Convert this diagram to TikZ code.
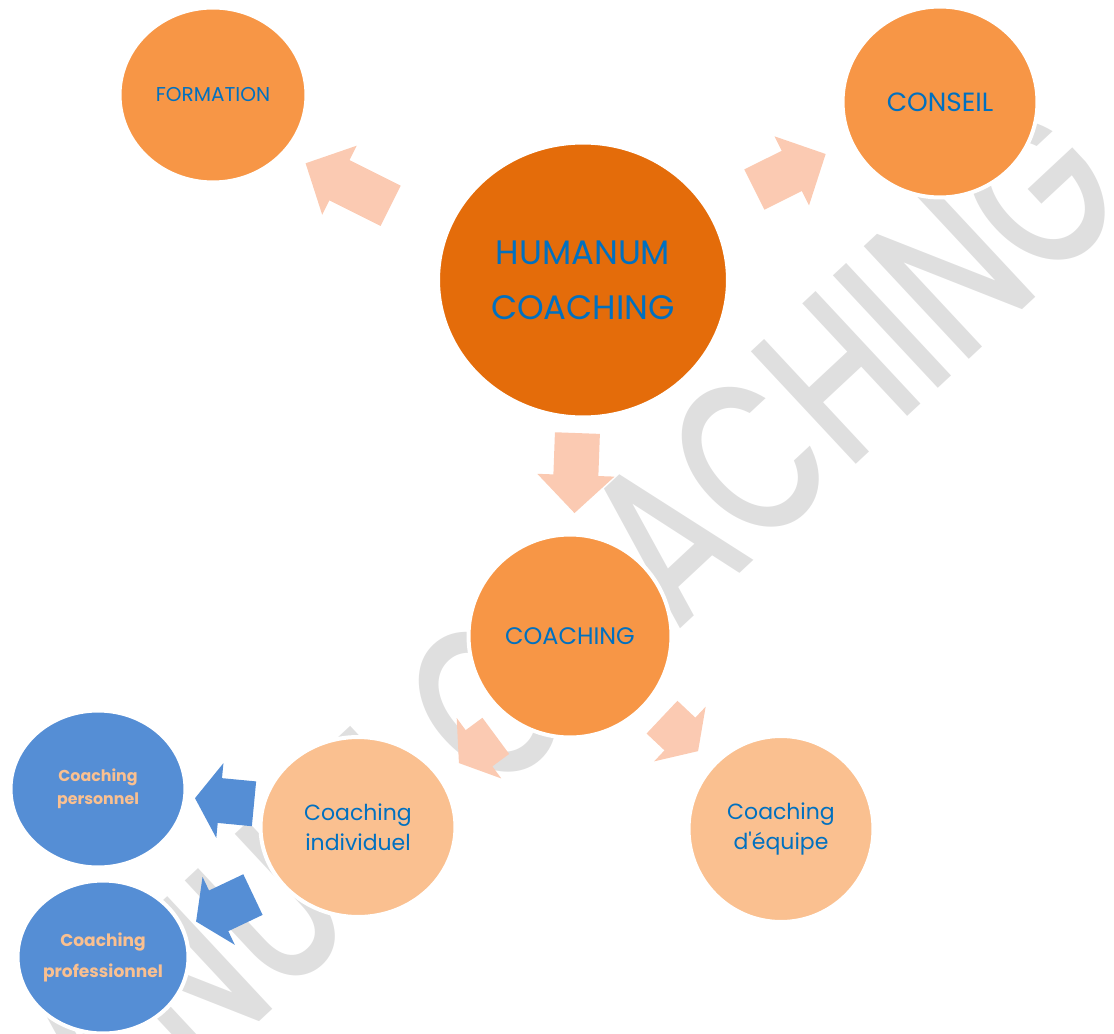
\documentclass[tikz,border=0pt]{standalone}
\usepackage{fontspec}
\setmainfont{Poppins}
\newfontfamily\wmfont{Poppins}[UprightFont=* Medium]
\usetikzlibrary{shapes.geometric,arrows.meta,calc}

\definecolor{humorange}{HTML}{E46C0A}
\definecolor{midorange}{HTML}{F79646}
\definecolor{lightorange}{HTML}{FAC090}
\definecolor{nodeblue}{HTML}{558ED5}
\definecolor{textblue}{HTML}{0070C0}
\definecolor{arrowpeach}{RGB}{251,202,178}
\definecolor{wmgray}{HTML}{DFDFDF}

\begin{document}
\begin{tikzpicture}[x=0.02cm,y=-0.02cm,
    bubble/.style={ellipse,draw=white,line width=0.08cm,inner sep=0pt,align=center,text=textblue},
    bigarrow/.style={draw=#1,line width=0.9cm,-{Triangle[length=0.76cm,width=1.5cm]}},
    smallarrow/.style={draw=#1,line width=0.9cm,-{Triangle[length=0.5cm,width=1.48cm]}}]
\useasboundingbox (0,0) rectangle (1114,1033);

% filigrane
\node[text=wmgray,rotate=43,xscale=0.72,anchor=base east,inner sep=0pt,
  font=\wmfont\fontsize{126}{126}\selectfont] (wm) at (1135,205) {HUMANUM COACHING};

% bulles
\node[bubble,fill=humorange,minimum width=5.8cm,minimum height=5.5cm,
  font=\fontsize{19.3}{31.3}\selectfont] (hum) at (583,280) {HUMANUM\\COACHING};
\node[bubble,fill=midorange,minimum width=3.74cm,minimum height=3.5cm,
  font=\fontsize{11.4}{14}\selectfont] (form) at (213,95) {FORMATION};
\node[bubble,fill=midorange,minimum width=3.9cm,minimum height=3.82cm,
  font=\fontsize{15}{18}\selectfont] (cons) at (940,102) {CONSEIL};
\node[bubble,fill=midorange,minimum width=4.06cm,minimum height=4.06cm,
  font=\fontsize{13.6}{16}\selectfont] (coach) at (570,636) {COACHING};
\node[bubble,fill=lightorange,minimum width=3.9cm,minimum height=3.6cm,
  font=\fontsize{12.5}{17}\selectfont] (indiv) at (358,827) {Coaching\\individuel};
\node[bubble,fill=lightorange,minimum width=3.7cm,minimum height=3.72cm,
  font=\fontsize{12.5}{17}\selectfont] (equipe) at (781,829) {Coaching\\d\textquotesingle équipe};
\node[bubble,fill=nodeblue,text=lightorange,minimum width=3.5cm,minimum height=3.14cm,
  font=\bfseries\fontsize{9}{13}\selectfont] (perso) at (98,789) {Coaching\\personnel};
\node[bubble,fill=nodeblue,text=lightorange,minimum width=3.42cm,minimum height=3.06cm,
  font=\bfseries\fontsize{9.7}{17.6}\selectfont] (pro) at (103,957) {Coaching\\professionnel};

% fleches
\draw[bigarrow=arrowpeach] ($(hum)!0.52!(form)+(0,22)$) -- ($(hum)!0.75!(form)+(0,22)$);
\draw[bigarrow=arrowpeach] ($(hum)!0.48!(cons)+(0,-5)$) -- ($(hum)!0.68!(cons)+(0,-5)$);
\draw[bigarrow=arrowpeach] ($(hum)!0.43!(coach)$) -- ($(hum)!0.655!(coach)$);
\draw[smallarrow=arrowpeach] ($(coach)!0.35!(indiv)+(0,33)$) -- ($(coach)!0.524!(indiv)+(0,27)$);
\draw[smallarrow=arrowpeach] ($(coach)!0.436!(equipe)+(0,-3)$) -- ($(coach)!0.607!(equipe)+(0,-2)$);
\draw[smallarrow=nodeblue] ($(indiv)!0.4!(perso)+(0,-8)$) -- ($(indiv)!0.627!(perso)+(0,-5)$);
\draw[smallarrow=nodeblue] ($(indiv)!0.412!(pro)+(0,14)$) -- ($(indiv)!0.635!(pro)+(0,12)$);
\end{tikzpicture}
\end{document}
